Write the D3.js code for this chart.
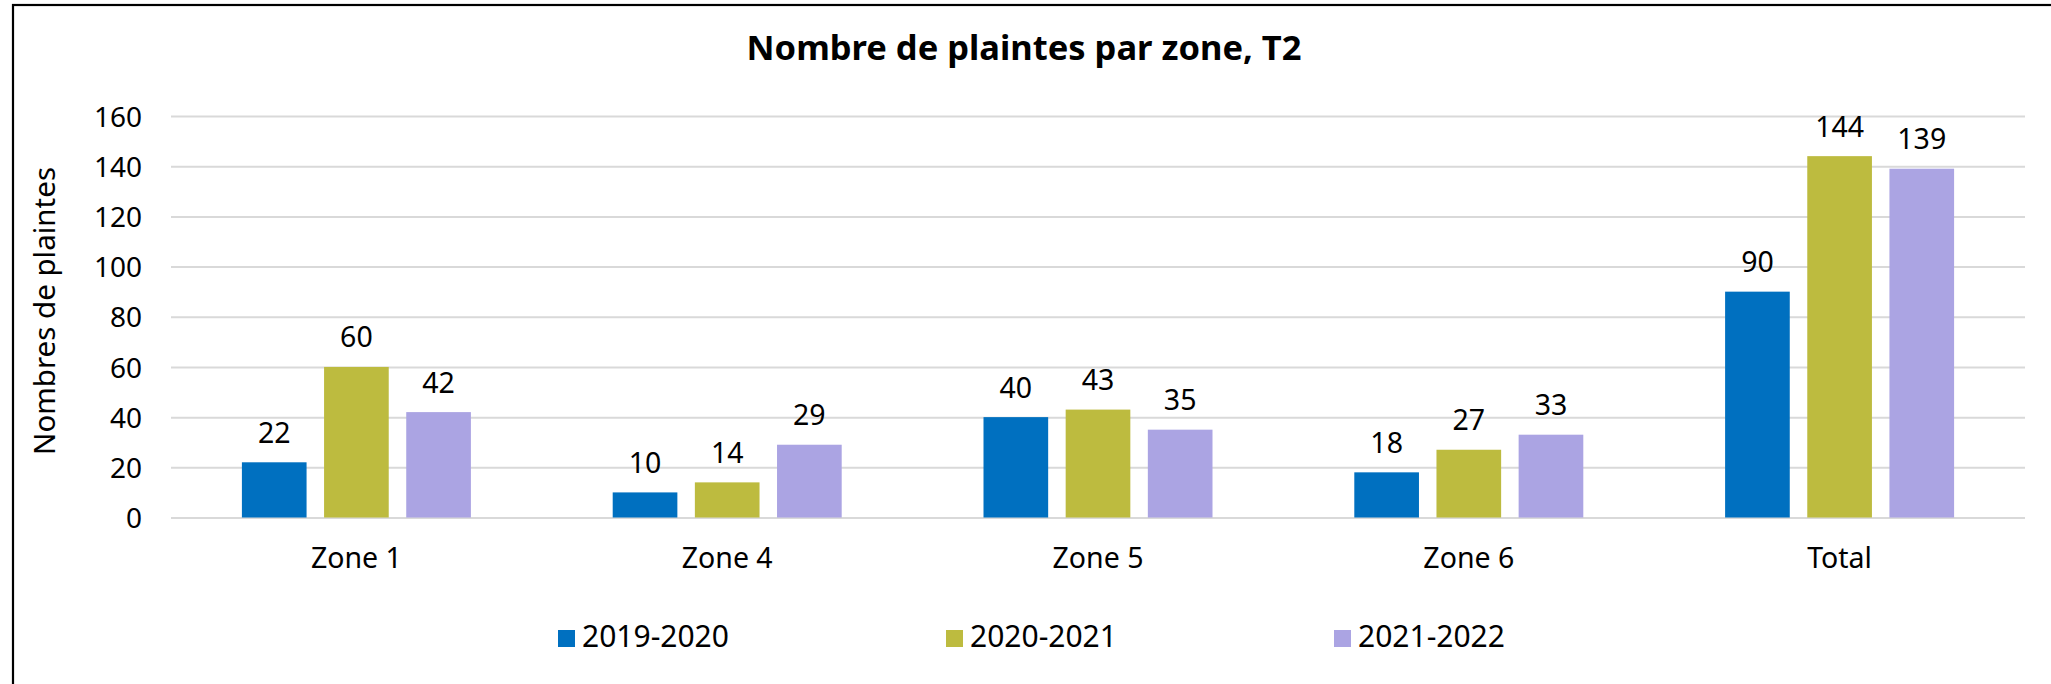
<!DOCTYPE html>
<html>
<head>
<meta charset="utf-8">
<script src="https://cdn.jsdelivr.net/npm/d3@7"></script>
<style>
  html, body { margin: 0; padding: 0; background: #fff; }
  svg { display: block; }
  text { font-family: "Noto Sans", "Open Sans", sans-serif; fill: #000; }
</style>
</head>
<body>
<div id="chart"></div>
<script>
const categories = ["Zone 1", "Zone 4", "Zone 5", "Zone 6", "Total"];
const seriesNames = ["2019-2020", "2020-2021", "2021-2022"];
const values2019 = [22, 10, 40, 18, 90];
const values2020 = [60, 14, 43, 27, 144];
const values2021 = [42, 29, 35, 33, 139];
const colors = ["#0070C0", "#BDBB3F", "#ABA4E3"];
const yTicks = [0, 20, 40, 60, 80, 100, 120, 140, 160];
const chartTitle = "Nombre de plaintes par zone, T2";
const yTitle = "Nombres de plaintes";

const seriesValues = [values2019, values2020, values2021];
const W = 2051, H = 684;
const svg = d3.select("#chart").append("svg").attr("width", W).attr("height", H);

// outer chart border (left and top visible)
svg.append("rect").attr("x", 13).attr("y", 5).attr("width", W + 20).attr("height", H + 20)
  .attr("fill", "none").attr("stroke", "#000").attr("stroke-width", 2.2);

const plotL = 171, plotR = 2025, plotT = 116, plotB = 517.5;
const x0 = d3.scaleBand().domain(categories).range([plotL, plotR]).paddingInner(0).paddingOuter(0);
const groupW = 229;
const x1 = d3.scaleBand().domain(seriesNames).range([0, groupW]).paddingInner(0.213).paddingOuter(0);
const y = d3.scaleLinear().domain([0, 160]).range([plotB, plotT]);

// gridlines
const grid = d3.axisLeft(y).tickValues(yTicks).tickSize(-(plotR - plotL)).tickFormat("");
const gg = svg.append("g").attr("transform", `translate(${plotL},0)`).call(grid);
gg.select(".domain").remove();
gg.selectAll("line").attr("stroke", "#D9D9D9").attr("stroke-width", 2);

// y tick labels
const ya = d3.axisLeft(y).tickValues(yTicks).tickSize(0).tickPadding(0);
const yg = svg.append("g").attr("transform", `translate(142,0)`).call(ya);
yg.select(".domain").remove();
yg.selectAll("text").attr("font-size", 28).attr("font-family", "Noto Sans, sans-serif").attr("dy", "0.36em").attr("x", 0);

// x labels
const xa = d3.axisBottom(x0).tickSize(0).tickPadding(0);
const xg = svg.append("g").attr("transform", `translate(0,${plotB})`).call(xa);
xg.select(".domain").remove();
xg.selectAll("text").attr("font-size", 28.5).attr("font-family", "Noto Sans, sans-serif").attr("dy", 0).attr("y", 50);

// bars
const data = [];
categories.forEach((c, i) => seriesNames.forEach((s, j) => data.push({ c, s, j, v: seriesValues[j][i] })));
const gx = c => x0(c) + x0.bandwidth() / 2 - groupW / 2;

svg.append("g").selectAll("rect").data(data).join("rect")
  .attr("x", d => gx(d.c) + x1(d.s))
  .attr("y", d => y(d.v))
  .attr("width", x1.bandwidth())
  .attr("height", d => y(0) - y(d.v))
  .attr("fill", d => colors[d.j]);

svg.append("g").selectAll("text").data(data).join("text")
  .attr("x", d => gx(d.c) + x1(d.s) + x1.bandwidth() / 2)
  .attr("y", d => y(d.v) - 19.5)
  .attr("text-anchor", "middle")
  .attr("font-size", 28.5)
  .text(d => d.v);

// title
svg.append("text").attr("x", 1024).attr("y", 60).attr("text-anchor", "middle")
  .attr("font-size", 34.5).attr("font-weight", "bold").attr("font-family", "DejaVu Sans, sans-serif")
  .text(chartTitle);

// y title
svg.append("text").attr("transform", "translate(55,311) rotate(-90)")
  .attr("text-anchor", "middle").attr("font-size", 29.5).text(yTitle);

// legend
const legendX = [558, 946, 1334];
const lg = svg.append("g").selectAll("g").data(seriesNames).join("g")
  .attr("transform", (d, i) => `translate(${legendX[i]},630)`);
lg.append("rect").attr("width", 17).attr("height", 17).attr("fill", (d, i) => colors[i]);
lg.append("text").attr("x", 24).attr("y", 17).attr("font-size", 30).text(d => d);
</script>
</body>
</html>
